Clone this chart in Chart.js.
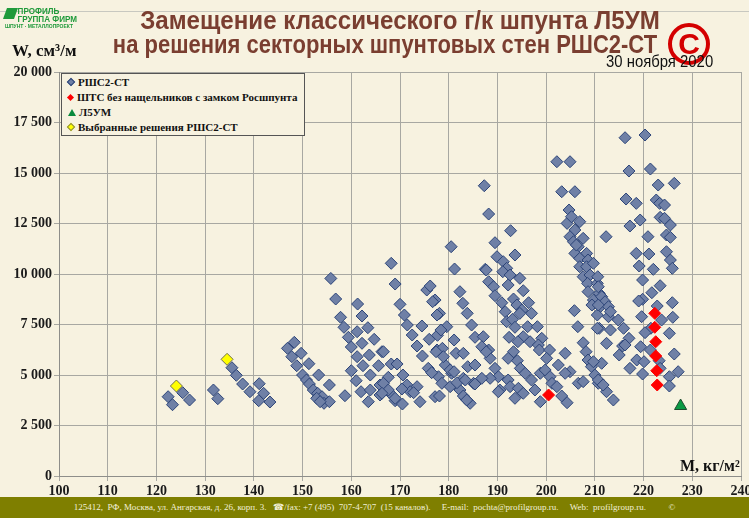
<!DOCTYPE html>
<html>
<head>
<meta charset="utf-8">
<script src="https://cdn.jsdelivr.net/npm/chart.js@4.4.0/dist/chart.umd.min.js"></script>
<style>
    body { margin: 0; background: #F7F2E0; }
    #wrap { position: relative; width: 749px; height: 518px; overflow: hidden; background: #F7F2E0; }
    #chart { position: absolute; left: 0; top: 0; }
    .title { position: absolute; width: 800px; text-align: center; color: #7A3E30; font-family: "Liberation Sans", Arial, sans-serif; font-weight: bold; font-size: 25px; line-height: 24px; white-space: nowrap; }
    #topline { position: absolute; left: 0; top: 11px; width: 749px; height: 1px; background: #C8C8C0; }
    #logo { position: absolute; left: 5px; top: 7px; color: #1F9A3A; font-family: "Liberation Sans", sans-serif; font-weight: bold; font-size: 8px; line-height: 8px; }
    #logo .big { font-size: 9px; line-height: 8px; padding-left: 14px; transform: scaleX(0.9); transform-origin: left; }
    #logo .ico { position: absolute; left: 0; top: 1px; width: 11px; height: 11px; background: #1F9A3A; transform: skewX(-20deg); }
    #copy { position: absolute; left: 668px; top: 23px; width: 34px; height: 34px; border: 4px solid #D40000; border-radius: 50%; color: #D40000; font-family: "Liberation Sans", Arial, sans-serif; font-weight: bold; font-size: 30px; line-height: 34px; text-align: center; }
    #date { position: absolute; left: 606px; top: 53px; font-family: "Liberation Sans", sans-serif; font-size: 16px; color: #111; white-space: nowrap; transform: scaleX(0.93); transform-origin: left; }
    #ylab { position: absolute; left: 12px; top: 41px; font-family: "Liberation Serif", serif; font-weight: bold; font-size: 17px; color: #111; white-space: nowrap; }
    #xlab { position: absolute; left: 680px; top: 457px; font-family: "Liberation Serif", serif; font-weight: bold; font-size: 16px; color: #111; white-space: nowrap; }
    #legend { position: absolute; left: 61px; top: 73px; width: 242px; height: 61px; border: 1px solid #555; background: #F7F2E0; font-family: "Liberation Serif", serif; font-weight: bold; font-size: 11px; color: #111; }
    .li { position: absolute; left: 6px; height: 14px; line-height: 14px; white-space: nowrap; }
    .mk { display: inline-block; width: 5px; height: 5px; transform: rotate(45deg); margin-right: 4px; vertical-align: 1px; }
    .tri { display: inline-block; width: 0; height: 0; border-left: 4px solid transparent; border-right: 4px solid transparent; border-bottom: 7px solid #0A8A3C; margin-right: 3px; vertical-align: 0px; }
    #footer { position: absolute; left: 0; top: 497px; width: 749px; height: 21px; background: #7F7F00; color: #F2F0D8; font-family: "Liberation Serif", serif; font-size: 9px; line-height: 21px; text-align: center; white-space: pre; }
</style>
</head>
<body>
<div id="wrap">
    <canvas id="chart" width="749" height="518"></canvas>
    <div id="topline"></div>
    <div id="logo"><div class="ico"></div><div class="big">ПРОФИЛЬ</div><div class="big">ГРУППА ФИРМ</div><div style="font-size:5px;line-height:6px">ШПУНТ · МЕТАЛЛОПРОЕКТ</div></div>
    <div class="title" style="top:8px;left:0;transform:scaleX(0.965)">Замещение классического г/к шпунта Л5УМ</div>
    <div class="title" style="top:32px;left:-15px;transform:scaleX(0.88)">на решения секторных шпунтовых стен РШС2-СТ</div>
    <div id="copy">C</div>
    <div id="date">30 ноября 2020</div>
    <div id="ylab">W, см³/м</div>
    <div id="xlab">M, кг/м²</div>
    <div id="legend">
        <div class="li" style="top:1px"><span class="mk" style="background:#6F80A6;border:1px solid #2C4478;width:4px;height:4px"></span>РШС2-СТ</div>
        <div class="li" style="top:16px"><span class="mk" style="background:#FF0000"></span>ШТС без нащельников с замком Росшпунта</div>
        <div class="li" style="top:31px"><span class="tri"></span>Л5УМ</div>
        <div class="li" style="top:46px"><span class="mk" style="background:#FFFF00;border:1px solid #8A8A40;width:4px;height:4px"></span>Выбранные решения РШС2-СТ</div>
    </div>
    <div id="footer">125412,  РФ, Москва, ул. Ангарская, д. 26, корп. 3.   ☎/fax: +7 (495)  707-4-707  (15 каналов).     E-mail:  pochta@profilgroup.ru.     Web:  profilgroup.ru.          ©</div>
</div>
<script>
// РШС2-СТ points: [M, W]
const rshPoints = [
    [122.4,3925],[123.3,3530],[125.4,4123],[126.8,3762],[131.7,4257],[132.6,3827],[135.5,5361],[136.4,4985],
    [137.7,4554],[139.2,4173],[141.1,4569],[142.0,4094],[141.0,3727],[143.3,3663],
    [146.9,6321],[148.3,6618],[147.8,5906],[149.7,6074],[148.8,5460],[151.3,5559],[150.0,5000],[150.8,4752],
    [153.3,5000],[151.4,4554],[152.2,4257],[153.1,4094],[154.0,3925],[154.4,3599],[155.5,3678],[155.5,4505],
    [152.9,3846],[153.6,3678],
    [158.7,3975],[155.8,9780],[156.8,8762],[157.8,7856],[158.5,7361],[159.4,6866],[160.0,6386],[161.2,5906],
    [162.4,5460],[160.0,5212],[161.0,4717],[162.0,4173],[163.5,3678],[161.3,8514],[162.2,7920],[161.2,7143],
    [163.4,7341],[162.2,6569],[164.7,6767],[163.7,5990],[165.6,5460],[163.9,5000],[166.3,6153],[165.9,4505],
    [163.9,4257],[165.9,4010],
    [168.2,10529],[169.0,9504],[170.0,8499],[170.9,7970],[171.5,7475],[172.5,6980],[173.5,6435],[174.5,7425],
    [174.6,5940],[168.2,5544],[169.4,5544],[167.6,4886],[170.6,5000],[171.4,4505],[173.5,4422],[168.0,4094],
    [169.0,3727],[170.5,3564],[172.1,4173],[174.1,3678],[166.6,6153],[166.6,4588],[167.6,4257],[166.3,4094],
    [169.0,3846],[170.4,4307],[172.8,4125],
    [175.5,9207],[176.2,9405],[177.2,8712],[178.1,8052],[176.0,6767],[177.7,6965],[179.6,7392],[175.8,5330],
    [177.6,6237],[178.7,6321],[179.3,5494],[177.9,4915],[178.6,4588],[177.2,3925],[180.3,4422],[181.1,6732],
    [181.5,6074],[183.0,6074],[180.6,5084],[183.0,4836],[182.3,4257],[183.4,3846],[184.4,3599],[183.9,5411],
    [185.4,5494],[185.1,4588],[182.3,9124],[182.9,8549],[183.8,8052],[184.7,7475],[185.4,6866],[181.2,10247],
    [180.5,11351],[176.7,8628],[177.6,7970],[178.4,7227],[176.5,5114],[177.4,6153],[178.9,5906],[180.3,5247],
    [181.1,5163],[181.7,4618],[183.0,3960],[183.7,3762],[183.4,4752],[185.4,4554],[178.1,3960],
    [187.3,14370],[188.2,12969],[189.5,11549],[189.9,10856],[187.5,10232],[192.7,12143],[193.6,10940],[191.2,10608],
    [191.9,10281],[188.2,9618],[191.1,10113],[192.6,9950],[189.2,9370],[192.2,9455],[194.6,9786],[189.5,8925],
    [193.3,8762],[195.3,9173],[190.9,8579],[194.0,8465],[196.4,8579],[191.6,8133],[195.0,8217],[197.0,8052],
    [191.9,7638],[193.1,7757],[194.6,8052],[193.6,7361],[196.2,7392],[198.2,7392],[192.4,6866],[195.3,6896],
    [194.2,6648],[196.7,6648],[199.1,6816],[198.4,6485],[193.3,6153],[192.2,5825],[198.6,6237],[200.7,6237],
    [200.1,5825],[194.1,5708],[194.7,5330],[195.7,5084],[197.0,4752],[198.8,5084],[199.8,5247],[200.8,4915],
    [192.2,4752],[190.5,4257],[192.6,4422],[194.3,4341],[193.6,3846],[195.3,4094],[197.7,4257],[198.8,3678],
    [187.1,6896],[188.2,6237],[188.5,5825],[189.5,5330],[190.2,4915],[188.5,4836],[186.8,4836],[190.2,4173],
    [187.7,10197],[186.8,6400],[187.7,6153],[201.2,4588],[202.2,4422],[203.2,3960],[204.3,3629],
    [202.2,15558],[204.9,15558],[203.2,14073],[205.9,14073],[202.5,5494],[203.9,6074],[204.9,5163],[203.9,5084],
    [204.7,13167],[204.3,12506],[205.2,12836],[206.9,12589],[205.9,12177],[204.9,11846],[207.6,11766],[205.6,11597],
    [206.6,11351],[205.9,11021],[208.3,11021],[206.9,10774],[208.6,10692],[206.9,10361],[208.3,10361],[209.7,10529],
    [207.6,9866],[209.0,9950],[208.5,9536],[210.5,9536],[208.6,9124],[210.9,9042],[209.7,8712],[211.1,8382],
    [205.8,8184],[206.5,7392],[210.5,7970],[210.9,7312],[207.6,6598],[208.2,6153],[208.6,5742],[209.3,5411],
    [210.0,5000],[210.7,4588],[206.6,4588],[207.6,4670],[206.2,11434],[210.6,9866],[211.4,8875],[212.1,8628],
    [212.8,8382],[209.4,8465],
    [216.2,16746],[220.3,16880],[217.0,15098],[221.4,15197],[223.0,14405],[226.3,14488],[216.4,13712],[218.5,13497],
    [222.6,13662],[223.3,13497],[224.3,13415],[219.3,12672],[217.2,12375],[223.4,12806],[224.3,12756],[225.5,12425],
    [212.3,11846],[220.9,11846],[224.7,11930],[225.5,11815],[218.5,11021],[221.1,10989],[224.7,11103],[225.5,10692],
    [219.1,10395],[222.0,10232],[225.9,10281],[219.8,9702],[223.4,9420],[221.7,9074],[219.8,8747],[225.9,8579],
    [222.8,8415],[219.6,7886],[226.0,7856],[223.7,7722],[221.5,7312],[225.3,7064],[219.4,6400],[221.4,6237],
    [226.3,6039],[218.6,5742],[217.2,5330],[219.8,5049],[223.2,5708],[225.3,4915],[227.1,5163],[225.3,4455],
    [212.4,4173],[213.8,3762],[211.4,5579],[210.7,4752],[211.7,4505],[212.8,7886],[210.5,7312],[213.2,7227],
    [215.9,7312],[214.8,7722],[212.4,6568],[215.0,5990],[215.7,6435],[217.0,6816],[210.7,9370],[220.3,7096],
    [219.0,8663],[216.2,6485],[220.1,5658],[223.4,5330],[210.7,8465],[213.2,8133],[209.7,5658]
];
// ШТС без нащельников с замком Росшпунта
const shtsPoints = [[200.5,4010],[222.3,8052],[222.3,7361],[222.5,6648],[222.5,5940],[222.7,5212],[222.8,4505]];
// Л5УМ
const l5umPoints = [[227.6,3465]];
// Выбранные решения РШС2-СТ
const chosenPoints = [[124.1,4455],[134.5,5776]];

const xTicks = { min: 100, max: 240, step: 10 };
const yTicks = { min: 0, max: 20000, step: 2500 };

function toXY(list) {
    return list.map(p => ({ x: p[0], y: p[1] }));
}

function fmtThousands(v) {
    return String(v).replace(/\B(?=(\d{3})+(?!\d))/g, ' ');
}

const tickFont = { family: 'Liberation Serif', weight: 'bold', size: 14 };

new Chart(document.getElementById('chart'), {
    type: 'scatter',
    data: {
        datasets: [
            { label: 'РШС2-СТ', data: toXY(rshPoints), order: 4, pointStyle: 'rectRot', pointRadius: 6,
              backgroundColor: '#6F80A6', borderColor: '#2C4478', borderWidth: 1 },
            { label: 'ШТС без нащельников с замком Росшпунта', data: toXY(shtsPoints), order: 1, pointStyle: 'rectRot',
              pointRadius: 6, backgroundColor: '#FF0000', borderColor: '#FF0000', borderWidth: 1 },
            { label: 'Л5УМ', data: toXY(l5umPoints), order: 1, pointStyle: 'triangle', pointRadius: 7,
              backgroundColor: '#0A9A44', borderColor: '#1E4A2E', borderWidth: 1 },
            { label: 'Выбранные решения РШС2-СТ', data: toXY(chosenPoints), order: 1, pointStyle: 'rectRot',
              pointRadius: 6, backgroundColor: '#FFFF00', borderColor: '#6E6E50', borderWidth: 1 }
        ]
    },
    options: {
        responsive: false,
        animation: false,
        layout: { padding: { left: 0, right: 8, top: 72, bottom: 21 } },
        plugins: { legend: { display: false }, tooltip: { enabled: false } },
        scales: {
            x: {
                type: 'linear', min: xTicks.min, max: xTicks.max,
                ticks: { stepSize: xTicks.step, font: tickFont, color: '#1A1A1A', padding: 2, maxRotation: 0, autoSkip: false },
                grid: { color: '#A8A8A2', tickLength: 5 },
                border: { color: '#8E8E8A' },
                afterFit: s => { s.height = 21; s.paddingLeft = 0; s.paddingRight = 0; }
            },
            y: {
                min: yTicks.min, max: yTicks.max,
                ticks: { stepSize: yTicks.step, font: tickFont, color: '#1A1A1A', padding: 2, callback: v => fmtThousands(v) },
                grid: { color: '#A8A8A2', tickLength: 5 },
                border: { color: '#8E8E8A' },
                afterFit: s => { s.width = 59; s.paddingTop = 0; s.paddingBottom = 0; }
            }
        }
    }
});
</script>
</body>
</html>
